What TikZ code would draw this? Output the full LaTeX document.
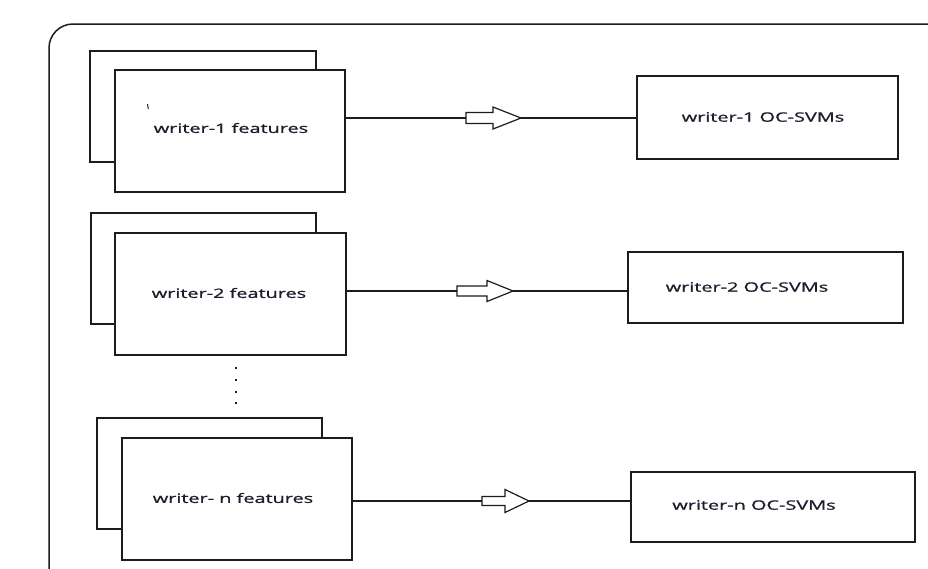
\documentclass[tikz,border=0pt]{standalone}
\usepackage{fontspec}
\usepackage{graphicx}
\setmainfont{Open Sans}
\newfontfamily\lblfont[FakeBold=0.8]{Open Sans}
\definecolor{ink}{HTML}{1C1C1C}
\definecolor{txt}{HTML}{1A1E2C}
\newcommand{\widetxt}[1]{\scalebox{1.53}[1]{#1}}
\begin{document}
\begin{tikzpicture}[x=1pt,y=-1pt,
  frame/.style={draw=ink,line width=1.5pt},
  card/.style={draw=ink,line width=1.5pt,fill=white,inner sep=0pt},
  wire/.style={draw=ink,line width=1.2pt},
  hollow/.style={draw=ink,line width=1.2pt,fill=white,line join=miter},
  lbl/.style={text=txt,font=\lblfont\fontsize{13}{15}\selectfont,inner sep=0pt},
  dot/.style={fill=ink,minimum size=2.8pt,inner sep=0pt}]
\useasboundingbox (0,0) rectangle (928,568);

% outer frame with a rounded top-left corner
\draw[frame,rounded corners=24pt] (49,572) -- (49,24) -- (932,24);

% stacked feature cards
\node[card,minimum width=226pt,minimum height=111pt] (k1) at (203,106.5) {};
\node[card,minimum width=230pt,minimum height=122pt] (f1) at (230,131) {};
\node[card,minimum width=225pt,minimum height=111pt] (k2) at (203.5,268.5) {};
\node[card,minimum width=231pt,minimum height=122pt] (f2) at (230.5,294) {};
\node[card,minimum width=225pt,minimum height=111pt] (k3) at (209.5,473.5) {};
\node[card,minimum width=230pt,minimum height=122pt] (f3) at (237,499) {};

\node[lbl] (t1) at (231,128) {\widetxt{writer-1 features}};
\node[lbl] (t2) at (229,293) {\widetxt{writer-2 features}};
\node[lbl] (t3) at (233,498) {\widetxt{writer- n features}};
\draw[ink,line width=1pt] (147.5,104) -- (148.3,109);

% vertical ellipsis between groups
\foreach \yy [count=\i] in {368,380,392,403}
  \node[dot] (d\i) at (236,\yy) {};

% classifier boxes
\node[card,minimum width=261pt,minimum height=83pt] (s1) at (767.5,117.5) {};
\node[card,minimum width=275pt,minimum height=71pt] (s2) at (765.5,287.5) {};
\node[card,minimum width=284pt,minimum height=70pt] (s3) at (773,507) {};

\node[lbl] (u1) at (763,117) {\widetxt{writer-1 OC-SVMs}};
\node[lbl] (u2) at (747,287) {\widetxt{writer-2 OC-SVMs}};
\node[lbl] (u3) at (754,505) {\widetxt{writer-n OC-SVMs}};

% hollow block arrows: tail, head start, tip
\coordinate (a1) at (466,118);   \coordinate (b1) at (521,118);
\coordinate (a2) at (457,291);   \coordinate (b2) at (513,291);
\coordinate (a3) at (482,501);   \coordinate (b3) at (529,501);

\draw[hollow] (466,112.5) -- (493,112.5) -- (493,107) -- (b1) -- (493,129) -- (493,123.5) -- (466,123.5) -- cycle;
\draw[hollow] (457,286) -- (487,286) -- (487,280.5) -- (b2) -- (487,301.5) -- (487,296) -- (457,296) -- cycle;
\draw[hollow] (482,496.5) -- (505,496.5) -- (505,489.5) -- (b3) -- (505,512.5) -- (505,505.5) -- (482,505.5) -- cycle;

% connectors
\draw[wire] (f1.east |- a1) -- (a1);
\draw[wire] (b1) -- (s1.west |- b1);
\draw[wire] (f2.east |- a2) -- (a2);
\draw[wire] (b2) -- (s2.west |- b2);
\draw[wire] (f3.east |- a3) -- (a3);
\draw[wire] (b3) -- (s3.west |- b3);
\end{tikzpicture}
\end{document}
